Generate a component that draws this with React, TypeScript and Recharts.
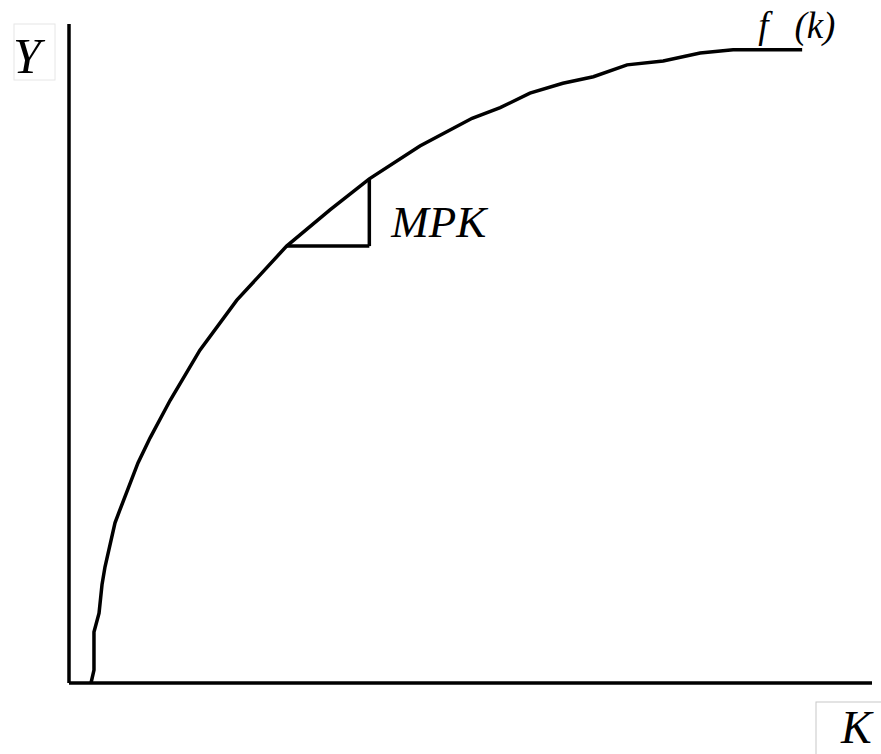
import React from 'react';
import {
  LineChart,
  Line,
  XAxis,
  YAxis,
  ReferenceLine,
  ReferenceDot,
  Label,
} from 'recharts';

// capital stock K (x) and output Y
const capitalK = [2.74, 3.11, 3.11, 3.74, 4.11, 4.48, 5.73, 6.35, 8.59, 10.1, 12.6, 16.3, 20.9, 27.1, 32.5, 37.4, 43.7, 50.2, 53.7, 57.4, 61.5, 65.3, 69.5, 74.0, 78.6, 82.7, 91.3];
const outputY = [0, 1.97, 7.74, 10.6, 14.9, 17.6, 24.3, 26.3, 33.4, 37.2, 42.9, 50.5, 58.1, 66.3, 71.8, 76.5, 81.5, 85.7, 87.3, 89.5, 91.0, 92.0, 93.8, 94.4, 95.6, 96.1, 96.1];

// slope triangle (MPK): run along K, rise along Y
const mpkK = [27.1, 37.4];
const mpkY = [66.3, 76.5];

const axisTitles = { y: 'Y', x: 'K' };
const curveName = 'f (k)';
const slopeName = 'MPK';

const serif = "'Liberation Serif', 'Times New Roman', serif";

const chartData = capitalK.map((k, i) => ({ k, y: outputY[i] }));

const App: React.FC = () => {
  return (
    <div style={{ position: 'absolute', left: 0, top: 0, background: '#fff' }}>
      <LineChart
        width={881}
        height={754}
        data={chartData}
        margin={{ top: 24, right: 9, left: 68, bottom: 70 }}
      >
        <XAxis
          type="number"
          dataKey="k"
          domain={[0, 100]}
          height={1}
          tick={false}
          tickLine={false}
          axisLine={{ stroke: '#000', strokeWidth: 3.5 }}
        >
          <Label
            content={({ viewBox }: any) => (
              <g>
                <rect x={816} y={702} width={70} height={60} fill="none" stroke="#c8c8c8" strokeWidth={1} />
                <text
                  x={viewBox.x + viewBox.width - 31}
                  y={viewBox.y + 60}
                  fontFamily={serif}
                  fontStyle="italic"
                  fontSize={46}
                  fill="#000"
                >
                  {axisTitles.x}
                </text>
              </g>
            )}
          />
        </XAxis>
        <YAxis
          type="number"
          domain={[0, 100]}
          width={1}
          tick={false}
          tickLine={false}
          axisLine={{ stroke: '#000', strokeWidth: 3.5 }}
        >
          <Label
            content={({ viewBox }: any) => (
              <g>
                <rect x={14} y={24} width={41} height={56} fill="none" stroke="#e6e6e6" strokeWidth={1} />
                <text
                  x={viewBox.x + viewBox.width - 56}
                  y={viewBox.y + 49}
                  fontFamily={serif}
                  fontStyle="italic"
                  fontSize={50}
                  fill="#000"
                >
                  {axisTitles.y}
                </text>
              </g>
            )}
          />
        </YAxis>
        <Line
          type="linear"
          dataKey="y"
          stroke="#000"
          strokeWidth={3.5}
          dot={false}
          activeDot={false}
          isAnimationActive={false}
        />
        <ReferenceLine
          segment={[{ x: mpkK[0], y: mpkY[0] }, { x: mpkK[1], y: mpkY[0] }]}
          stroke="#000"
          strokeWidth={3.5}
        />
        <ReferenceLine
          segment={[{ x: mpkK[1], y: mpkY[0] }, { x: mpkK[1], y: mpkY[1] }]}
          stroke="#000"
          strokeWidth={3.5}
        />
        <ReferenceDot x={mpkK[1]} y={mpkY[0]} r={0} fill="none" stroke="none">
          <Label
            content={({ viewBox }: any) => (
              <text
                x={viewBox.x + 22}
                y={viewBox.y - 9}
                fontFamily={serif}
                fontStyle="italic"
                fontSize={45}
                fill="#000"
              >
                {slopeName}
              </text>
            )}
          />
        </ReferenceDot>
        <ReferenceDot
          x={capitalK[capitalK.length - 1]}
          y={outputY[outputY.length - 1]}
          r={0}
          fill="none"
          stroke="none"
        >
          <Label
            content={({ viewBox }: any) => (
              <text
                x={viewBox.x - 44}
                y={viewBox.y - 12}
                fontFamily={serif}
                fontStyle="italic"
                fontSize={37}
                fill="#000"
              >
                <tspan>{curveName.split(' ')[0]}</tspan>
                <tspan x={viewBox.x - 17}>{' ' + curveName.split(' ')[1]}</tspan>
              </text>
            )}
          />
        </ReferenceDot>
      </LineChart>
    </div>
  );
};

export default App;
